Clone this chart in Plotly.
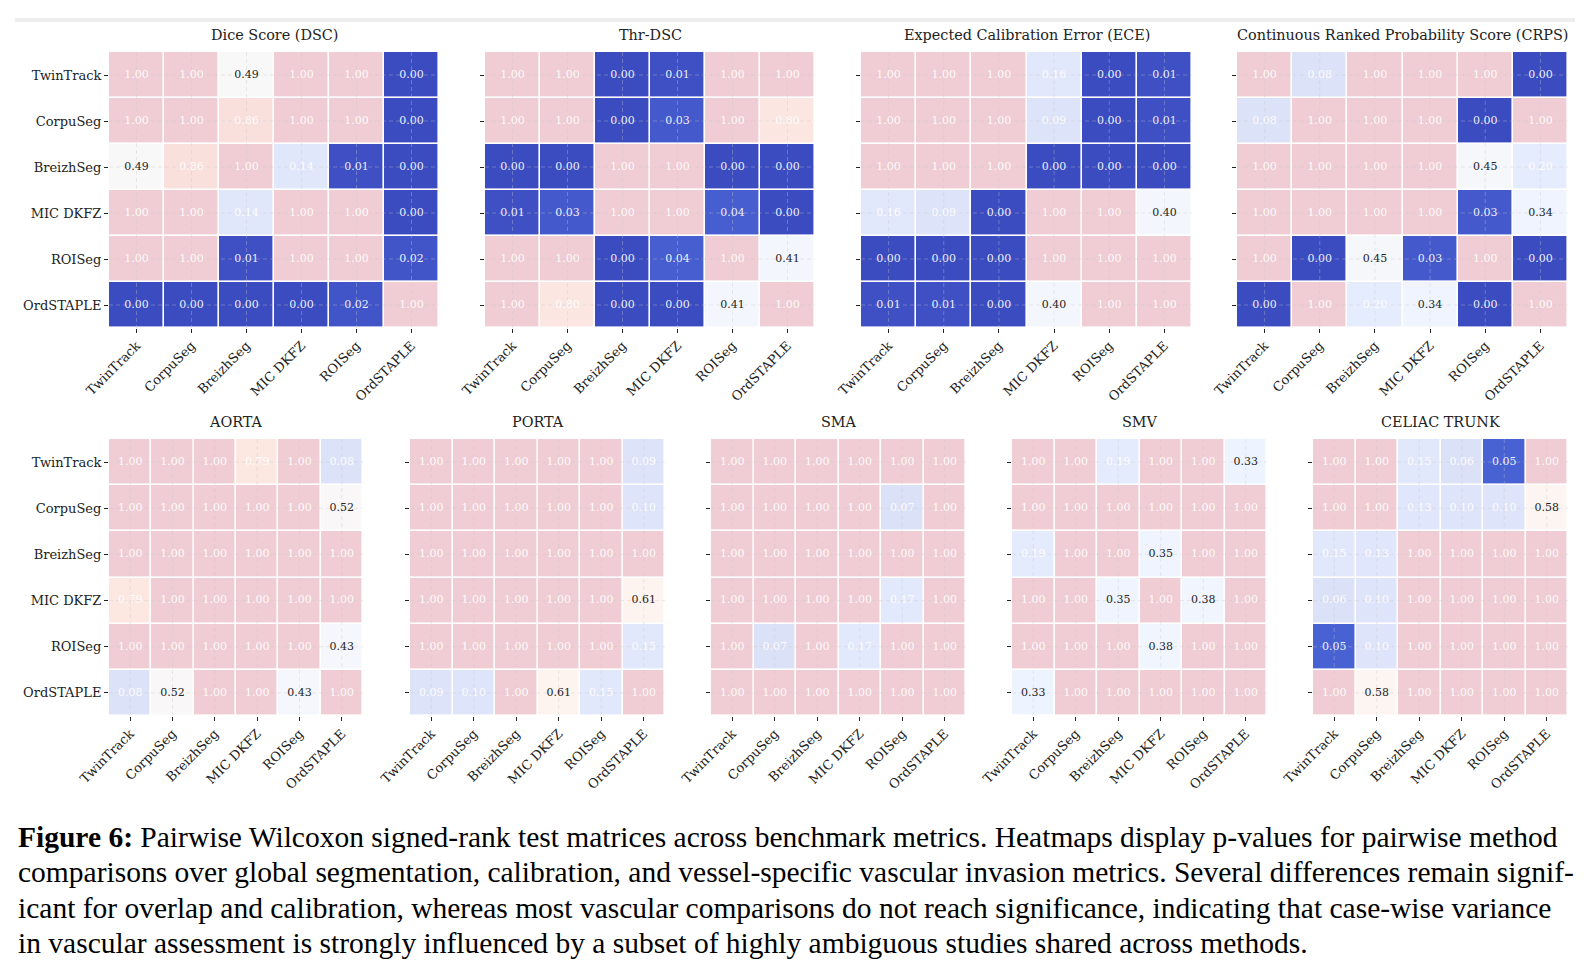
import plotly.graph_objects as go

methods = ["TwinTrack", "CorpuSeg", "BreizhSeg", "MIC DKFZ", "ROISeg", "OrdSTAPLE"]

dsc = [
    [1.00, 1.00, 0.49, 1.00, 1.00, 0.00],
    [1.00, 1.00, 0.86, 1.00, 1.00, 0.00],
    [0.49, 0.86, 1.00, 0.14, 0.01, 0.00],
    [1.00, 1.00, 0.14, 1.00, 1.00, 0.00],
    [1.00, 1.00, 0.01, 1.00, 1.00, 0.02],
    [0.00, 0.00, 0.00, 0.00, 0.02, 1.00],
]
thr_dsc = [
    [1.00, 1.00, 0.00, 0.01, 1.00, 1.00],
    [1.00, 1.00, 0.00, 0.03, 1.00, 0.80],
    [0.00, 0.00, 1.00, 1.00, 0.00, 0.00],
    [0.01, 0.03, 1.00, 1.00, 0.04, 0.00],
    [1.00, 1.00, 0.00, 0.04, 1.00, 0.41],
    [1.00, 0.80, 0.00, 0.00, 0.41, 1.00],
]
ece = [
    [1.00, 1.00, 1.00, 0.16, 0.00, 0.01],
    [1.00, 1.00, 1.00, 0.09, 0.00, 0.01],
    [1.00, 1.00, 1.00, 0.00, 0.00, 0.00],
    [0.16, 0.09, 0.00, 1.00, 1.00, 0.40],
    [0.00, 0.00, 0.00, 1.00, 1.00, 1.00],
    [0.01, 0.01, 0.00, 0.40, 1.00, 1.00],
]
crps = [
    [1.00, 0.08, 1.00, 1.00, 1.00, 0.00],
    [0.08, 1.00, 1.00, 1.00, 0.00, 1.00],
    [1.00, 1.00, 1.00, 1.00, 0.45, 0.20],
    [1.00, 1.00, 1.00, 1.00, 0.03, 0.34],
    [1.00, 0.00, 0.45, 0.03, 1.00, 0.00],
    [0.00, 1.00, 0.20, 0.34, 0.00, 1.00],
]
aorta = [
    [1.00, 1.00, 1.00, 0.79, 1.00, 0.08],
    [1.00, 1.00, 1.00, 1.00, 1.00, 0.52],
    [1.00, 1.00, 1.00, 1.00, 1.00, 1.00],
    [0.79, 1.00, 1.00, 1.00, 1.00, 1.00],
    [1.00, 1.00, 1.00, 1.00, 1.00, 0.43],
    [0.08, 0.52, 1.00, 1.00, 0.43, 1.00],
]
porta = [
    [1.00, 1.00, 1.00, 1.00, 1.00, 0.09],
    [1.00, 1.00, 1.00, 1.00, 1.00, 0.10],
    [1.00, 1.00, 1.00, 1.00, 1.00, 1.00],
    [1.00, 1.00, 1.00, 1.00, 1.00, 0.61],
    [1.00, 1.00, 1.00, 1.00, 1.00, 0.15],
    [0.09, 0.10, 1.00, 0.61, 0.15, 1.00],
]
sma = [
    [1.00, 1.00, 1.00, 1.00, 1.00, 1.00],
    [1.00, 1.00, 1.00, 1.00, 0.07, 1.00],
    [1.00, 1.00, 1.00, 1.00, 1.00, 1.00],
    [1.00, 1.00, 1.00, 1.00, 0.17, 1.00],
    [1.00, 0.07, 1.00, 0.17, 1.00, 1.00],
    [1.00, 1.00, 1.00, 1.00, 1.00, 1.00],
]
smv = [
    [1.00, 1.00, 0.19, 1.00, 1.00, 0.33],
    [1.00, 1.00, 1.00, 1.00, 1.00, 1.00],
    [0.19, 1.00, 1.00, 0.35, 1.00, 1.00],
    [1.00, 1.00, 0.35, 1.00, 0.38, 1.00],
    [1.00, 1.00, 1.00, 0.38, 1.00, 1.00],
    [0.33, 1.00, 1.00, 1.00, 1.00, 1.00],
]
celiac = [
    [1.00, 1.00, 0.15, 0.06, 0.05, 1.00],
    [1.00, 1.00, 0.13, 0.10, 0.10, 0.58],
    [0.15, 0.13, 1.00, 1.00, 1.00, 1.00],
    [0.06, 0.10, 1.00, 1.00, 1.00, 1.00],
    [0.05, 0.10, 1.00, 1.00, 1.00, 1.00],
    [1.00, 0.58, 1.00, 1.00, 1.00, 1.00],
]

top_titles = ["Dice Score (DSC)", "Thr-DSC", "Expected Calibration Error (ECE)",
              "Continuous Ranked Probability Score (CRPS)"]
top_data = [dsc, thr_dsc, ece, crps]
bot_titles = ["AORTA", "PORTA", "SMA", "SMV", "CELIAC TRUNK"]
bot_data = [aorta, porta, sma, smv, celiac]

caption_lines = [
    "<b>Figure 6:</b> Pairwise Wilcoxon signed-rank test matrices across benchmark metrics. Heatmaps display p-values for pairwise method",
    "comparisons over global segmentation, calibration, and vessel-specific vascular invasion metrics. Several differences remain signif-",
    "icant for overlap and calibration, whereas most vascular comparisons do not reach significance, indicating that case-wise variance",
    "in vascular assessment is strongly influenced by a subset of highly ambiguous studies shared across methods.",
]

# ---------------- styling ----------------
W, H = 1592, 976
SIG = 0.05
ALPHA = 0.2
SERIF = "DejaVu Serif"

COOLWARM = [
    (0.0, (59, 76, 192)), (0.03125, (68, 90, 204)), (0.0625, (77, 104, 215)),
    (0.09375, (87, 117, 225)), (0.125, (98, 130, 234)), (0.15625, (108, 142, 241)),
    (0.1875, (119, 154, 247)), (0.21875, (130, 165, 251)), (0.25, (141, 176, 254)),
    (0.28125, (152, 185, 255)), (0.3125, (163, 194, 255)), (0.34375, (174, 201, 253)),
    (0.375, (184, 208, 249)), (0.40625, (194, 213, 244)), (0.4375, (204, 217, 238)),
    (0.46875, (213, 219, 230)), (0.5, (221, 221, 221)), (0.53125, (229, 216, 209)),
    (0.5625, (236, 211, 197)), (0.59375, (241, 204, 185)), (0.625, (245, 196, 173)),
    (0.65625, (247, 187, 160)), (0.6875, (247, 177, 148)), (0.71875, (247, 166, 135)),
    (0.75, (244, 154, 123)), (0.78125, (241, 141, 111)), (0.8125, (236, 127, 99)),
    (0.84375, (229, 112, 89)), (0.875, (222, 96, 77)), (0.90625, (213, 80, 66)),
    (0.9375, (203, 62, 56)), (0.96875, (192, 40, 47)), (1.0, (180, 4, 38)),
]


def cw(p):
    for (t0, c0), (t1, c1) in zip(COOLWARM[:-1], COOLWARM[1:]):
        if p <= t1:
            f = (p - t0) / (t1 - t0) if t1 > t0 else 0
            return tuple(c0[i] + f * (c1[i] - c0[i]) for i in range(3))
    return COOLWARM[-1][1]


def blend(c, a=ALPHA):
    return tuple(255 - a * (255 - v) for v in c)


def rgb(c):
    return "rgb(%d,%d,%d)" % tuple(round(v) for v in c)


def lum(c):
    def lin(v):
        v = v / 255
        return v / 12.92 if v <= 0.03928 else ((v + 0.055) / 1.055) ** 2.4
    r, g, b = (lin(v) for v in c)
    return 0.2126 * r + 0.7152 * g + 0.0722 * b


colorscale = []
for t, c in COOLWARM:
    if t <= SIG:
        colorscale.append([t, rgb(c)])
colorscale.append([SIG, rgb(cw(SIG))])
colorscale.append([SIG + 0.0005, rgb(blend(cw(SIG + 0.0005)))])
for t, c in COOLWARM:
    if t > SIG + 0.0005:
        colorscale.append([t, rgb(blend(c))])

top_x = [(109, 439), (485, 815), (861, 1192), (1237, 1568)]
top_y = (52, 328)
bot_x = [(109, 363), (410, 665), (711, 966), (1012, 1267), (1313, 1568)]
bot_y = (439, 716)

panels = []
for i in range(4):
    panels.append((top_titles[i], top_data[i], top_x[i], top_y, i == 0))
for i in range(5):
    panels.append((bot_titles[i], bot_data[i], bot_x[i], bot_y, i == 0))

fig = go.Figure()
idx = list(range(len(methods)))
n = len(methods)

for k, (title, mat, (x0, x1), (y0, y1), first) in enumerate(panels, start=1):
    xa = "x" if k == 1 else "x%d" % k
    ya = "y" if k == 1 else "y%d" % k
    fig.add_trace(go.Heatmap(
        z=mat, x=idx, y=idx, colorscale=colorscale, zmin=0, zmax=1,
        showscale=False, xgap=1.6, ygap=1.6, hoverinfo="skip",
        xaxis=xa, yaxis=ya))
    # dashed grid lines drawn over the cells (matplotlib style)
    gx, gy = [], []
    for i in idx:
        gx += [i, i, None]
        gy += [-0.5, n - 0.5, None]
        gx += [-0.5, n - 0.5, None]
        gy += [i, i, None]
    fig.add_trace(go.Scatter(
        x=gx, y=gy, mode="lines", hoverinfo="skip",
        line=dict(color="rgba(200,200,200,0.45)", width=0.8, dash="4px,3px"),
        xaxis=xa, yaxis=ya))
    tx, ty, tt, tc = [], [], [], []
    for r in range(n):
        for c in range(n):
            v = mat[r][c]
            tx.append(c)
            ty.append(r)
            tt.append("%.2f" % v)
            tc.append("#262626" if lum(cw(v)) > 0.408 else "rgba(255,255,255,0.92)")
    fig.add_trace(go.Scatter(
        x=tx, y=ty, text=tt, mode="text", hoverinfo="skip",
        textfont=dict(family=SERIF, size=11, color=tc),
        xaxis=xa, yaxis=ya))

    axis_common = dict(
        tickvals=idx, ticks="outside", ticklen=4, tickwidth=1, tickcolor="#222",
        showgrid=False, zeroline=False, showline=False, automargin=False,
        tickfont=dict(family=SERIF, size=13, color="#222"))
    fig.layout["xaxis" if k == 1 else "xaxis%d" % k] = dict(
        domain=[x0 / W, x1 / W], range=[-0.5, n - 0.5], ticktext=methods,
        tickangle=-45, anchor=ya, **axis_common)
    fig.layout["yaxis" if k == 1 else "yaxis%d" % k] = dict(
        domain=[1 - y1 / H, 1 - y0 / H], range=[n - 0.5, -0.5], ticktext=methods,
        showticklabels=first, anchor=xa, **axis_common)

    fig.add_annotation(
        text=title, x=(x0 + x1) / 2 / W, y=1 - (y0 - 17) / H, xref="paper", yref="paper",
        xanchor="center", yanchor="middle", showarrow=False,
        font=dict(family=SERIF, size=14.4, color="#222"))

# caption
cap_y = [837, 872, 908, 943]
for line, yy in zip(caption_lines, cap_y):
    fig.add_annotation(
        text=line, x=16 / W, y=1 - yy / H, xref="paper", yref="paper",
        xanchor="left", yanchor="middle", showarrow=False, align="left",
        font=dict(family="Liberation Serif", size=29.5, color="black"))

# thin gray rule at the top of the page
fig.add_shape(type="line", xref="paper", yref="paper", x0=15 / W, x1=1575 / W,
              y0=1 - 20 / H, y1=1 - 20 / H, line=dict(color="#eeeeee", width=4))

fig.update_layout(
    width=W, height=H, margin=dict(l=0, r=0, t=0, b=0),
    paper_bgcolor="white", plot_bgcolor="white", showlegend=False)

fig.write_html("out.html")
